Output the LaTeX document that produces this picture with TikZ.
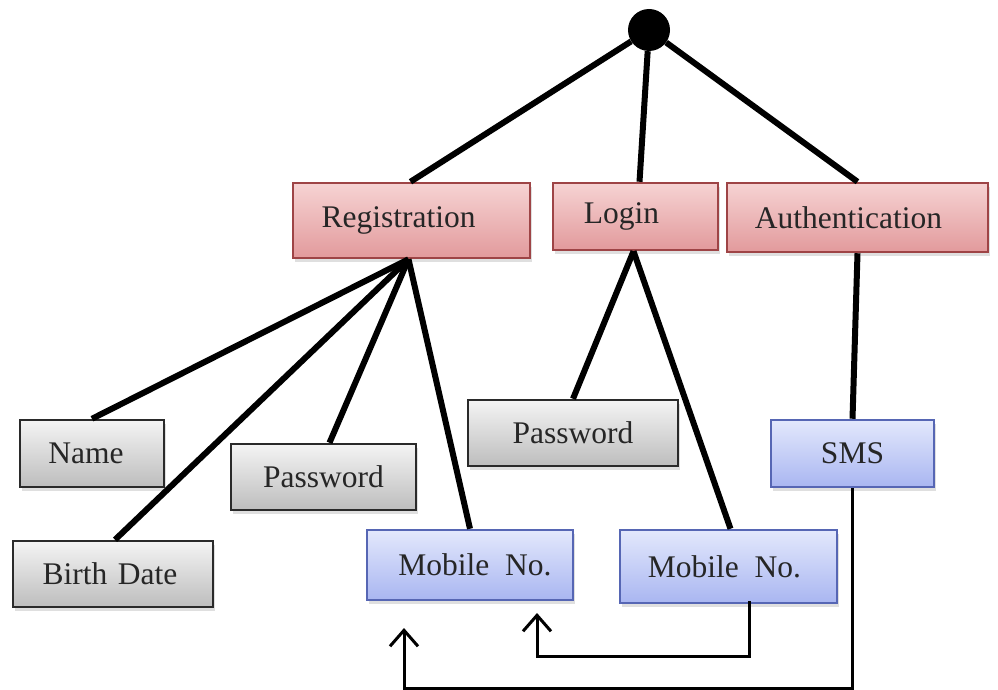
\documentclass[tikz,border=0pt]{standalone}
\usepackage{fontspec}
\setmainfont{Liberation Serif}
\usetikzlibrary{shadows,arrows.meta}

\definecolor{txt}{HTML}{262626}
\definecolor{redtop}{HTML}{F6D3D3}
\definecolor{redbot}{HTML}{E29A9C}
\definecolor{redline}{HTML}{9E4446}
\definecolor{graytop}{HTML}{F4F4F4}
\definecolor{graybot}{HTML}{BDBDBD}
\definecolor{grayline}{HTML}{2A2A2A}
\definecolor{bluetop}{HTML}{E3E8FC}
\definecolor{bluebot}{HTML}{A9B6F1}
\definecolor{blueline}{HTML}{5666B4}

% shift a label left by half the given length inside its box
\newcommand{\pullleft}[1]{\hspace*{-#1}}

\tikzset{
  box/.style={draw, line width=2.5pt, rectangle, inner sep=0pt,
    font=\fontsize{31.5}{34}\selectfont, text=txt,
    drop shadow={shadow xshift=1.5pt, shadow yshift=-4pt, opacity=0.25}},
  modbox/.style={box, draw=redline, top color=redtop, bottom color=redbot},
  fieldbox/.style={box, draw=grayline, top color=graytop, bottom color=graybot},
  keybox/.style={box, draw=blueline, top color=bluetop, bottom color=bluebot},
  thick link/.style={line width=6pt},
  flow/.style={line width=3pt, -{Straight Barb[length=16pt,width=28pt,line width=3pt]}},
}

\begin{document}
\begin{tikzpicture}[x=1pt,y=-1pt]
\useasboundingbox (0,0) rectangle (998,690);

% root of the tree
\node[circle, fill=black, minimum size=42pt, inner sep=0pt] (root) at (649,30) {};

% modules
\node[modbox, minimum width=237pt, minimum height=75pt] (reg) at (411.5,220.5) {\pullleft{26pt}Registration};
\node[modbox, minimum width=165pt, minimum height=67pt] (login) at (635.5,216.5) {\pullleft{28pt}Login};
\node[modbox, minimum width=261pt, minimum height=69pt] (auth) at (857.5,217.5) {\pullleft{18pt}Authentication};

% registration fields
\node[fieldbox, minimum width=144pt, minimum height=67pt] (name) at (92,453.5) {\pullleft{12pt}Name};
\node[fieldbox, minimum width=200pt, minimum height=66pt] (birth) at (113,574) {\pullleft{6pt}Birth\hspace{0.33em}Date};
\node[fieldbox, minimum width=185pt, minimum height=66pt] (pwreg) at (323.5,477) {Password};
\node[keybox, minimum width=206pt, minimum height=70pt] (mobreg) at (470,565) {Mobile\hspace{0.5em}No.\hspace*{-10pt}};

% login fields
\node[fieldbox, minimum width=210pt, minimum height=66pt] (pwlog) at (573,433) {Password};
\node[keybox, minimum width=217pt, minimum height=73pt] (moblog) at (728.5,566.5) {\pullleft{8pt}Mobile\hspace{0.5em}No.};

% authentication
\node[keybox, minimum width=163pt, minimum height=67pt] (sms) at (852.5,453.5) {SMS};

% tree connectors
\draw[thick link] (root) -- ([xshift=-1pt]reg.north);
\draw[thick link] (root) -- ([xshift=4pt]login.north);
\draw[thick link] (root) -- (auth.north);

\draw[thick link] ([xshift=-3pt]reg.south) -- (name.north);
\draw[thick link] ([xshift=-3pt]reg.south) -- ([xshift=2pt]birth.north);
\draw[thick link] ([xshift=-3pt]reg.south) -- ([xshift=6pt]pwreg.north);
\draw[thick link] ([xshift=-3pt]reg.south) -- (mobreg.north);

\draw[thick link] ([xshift=-2pt]login.south) -- (pwlog.north);
\draw[thick link] ([xshift=-2pt]login.south) -- ([xshift=2pt]moblog.north);

\draw[thick link] (auth.south) -- (sms.north);

% feedback paths
\coordinate (tipa) at (537,613);
\coordinate (levela) at (0,656);
\coordinate (tipb) at (404,628);
\coordinate (levelb) at (0,688);

\draw[flow] ([xshift=20.5pt,yshift=3pt]moblog.south) -- ([xshift=20.5pt]moblog.south |- levela) -| (tipa);
\draw[flow] (sms.south) -- (sms.south |- levelb) -| (tipb);
\end{tikzpicture}
\end{document}
